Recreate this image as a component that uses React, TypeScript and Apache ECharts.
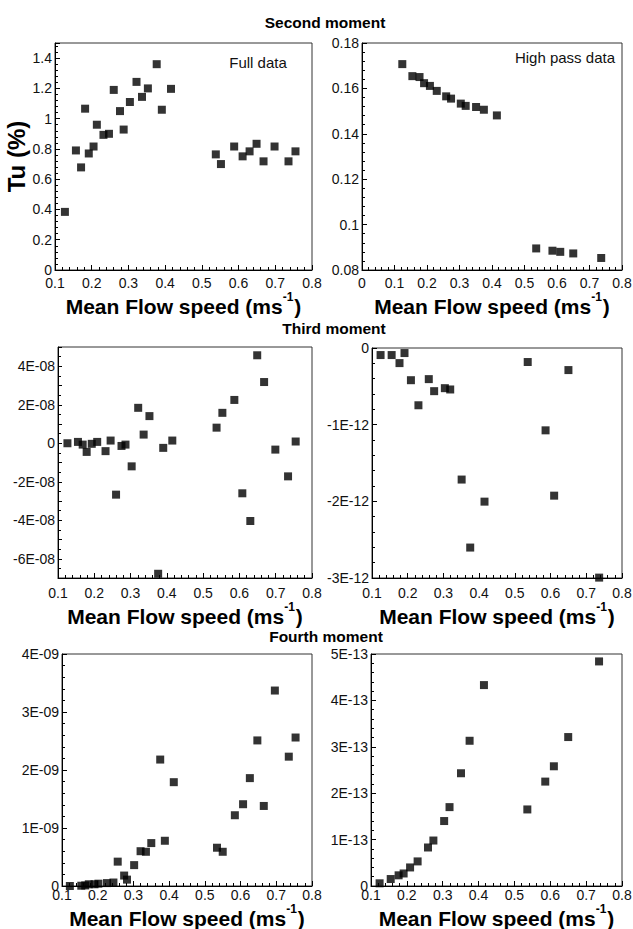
import React, { useEffect, useRef } from "react";
import * as echarts from "echarts";

// ---------- Data ----------
// Full data: flow speed (m/s) per panel
const speedSecond = [0.127, 0.157, 0.171, 0.182, 0.192, 0.205, 0.214, 0.232, 0.247, 0.260, 0.277, 0.287, 0.304, 0.322, 0.337, 0.353, 0.377, 0.391, 0.416, 0.538, 0.552, 0.588, 0.611, 0.630, 0.649, 0.668, 0.698, 0.736, 0.755];
const tuSecond = [0.384, 0.79, 0.678, 1.066, 0.77, 0.816, 0.96, 0.893, 0.90, 1.19, 1.05, 0.928, 1.11, 1.243, 1.144, 1.2, 1.36, 1.059, 1.197, 0.764, 0.70, 0.816, 0.751, 0.784, 0.834, 0.718, 0.816, 0.718, 0.784];

const speedThird = [0.126, 0.155, 0.168, 0.179, 0.193, 0.208, 0.231, 0.245, 0.260, 0.275, 0.286, 0.303, 0.321, 0.336, 0.352, 0.376, 0.390, 0.415, 0.537, 0.553, 0.586, 0.608, 0.630, 0.649, 0.668, 0.699, 0.734, 0.755];
const third = [0.0, 0.07e-8, -0.07e-8, -0.45e-8, -0.03e-8, 0.07e-8, -0.41e-8, 0.14e-8, -2.67e-8, -0.14e-8, -0.07e-8, -1.2e-8, 1.84e-8, 0.45e-8, 1.41e-8, -6.78e-8, -0.24e-8, 0.14e-8, 0.81e-8, 1.58e-8, 2.25e-8, -2.6e-8, -4.04e-8, 4.57e-8, 3.18e-8, -0.33e-8, -1.72e-8, 0.09e-8];

const speedFourth = [0.122, 0.154, 0.165, 0.175, 0.191, 0.202, 0.226, 0.244, 0.256, 0.274, 0.282, 0.302, 0.320, 0.335, 0.350, 0.375, 0.388, 0.413, 0.534, 0.550, 0.584, 0.607, 0.626, 0.647, 0.665, 0.696, 0.735, 0.754];
const fourth = [0, 0.005e-9, 0.01e-9, 0.03e-9, 0.03e-9, 0.04e-9, 0.05e-9, 0.06e-9, 0.42e-9, 0.18e-9, 0.11e-9, 0.36e-9, 0.60e-9, 0.59e-9, 0.74e-9, 2.18e-9, 0.78e-9, 1.79e-9, 0.66e-9, 0.59e-9, 1.22e-9, 1.41e-9, 1.86e-9, 2.51e-9, 1.38e-9, 3.37e-9, 2.23e-9, 2.56e-9];

// High pass data
const speedHigh = [0.124, 0.155, 0.177, 0.191, 0.209, 0.230, 0.259, 0.274, 0.304, 0.319, 0.351, 0.375, 0.415, 0.536, 0.586, 0.610, 0.650, 0.736];
const highSecond = [0.1707, 0.1654, 0.165, 0.1623, 0.1611, 0.1589, 0.1565, 0.1555, 0.1533, 0.1523, 0.1518, 0.1506, 0.1481, 0.0895, 0.0885, 0.0880, 0.0873, 0.0853];
const highThird = [-0.092e-12, -0.092e-12, -0.197e-12, -0.066e-12, -0.42e-12, -0.747e-12, -0.406e-12, -0.563e-12, -0.524e-12, -0.541e-12, -1.716e-12, -2.603e-12, -2.004e-12, -0.183e-12, -1.074e-12, -1.926e-12, -0.288e-12, -2.995e-12];
const highFourth = [0.058e-13, 0.15e-13, 0.23e-13, 0.27e-13, 0.40e-13, 0.53e-13, 0.83e-13, 0.98e-13, 1.40e-13, 1.70e-13, 2.43e-13, 3.13e-13, 4.33e-13, 1.65e-13, 2.25e-13, 2.58e-13, 3.21e-13, 4.84e-13];

const rowTitles = ["Second moment", "Third moment", "Fourth moment"];
const xAxisTitle = "Mean Flow speed (ms{sup|-1})";
const yAxisTitle = "Tu (%)";
const panelNotes = ["Full data", "High pass data"];

const FONT = '"Liberation Sans", Arial, Helvetica, sans-serif';

function zip(xs: number[], ys: number[]) {
  return xs.map((x, i) => [x, ys[i]]);
}

function expFmt(exp: number, evenOnly = false) {
  return (v: number) => {
    const m = Math.round(v / Math.pow(10, exp));
    if (evenOnly && m % 2 !== 0) return "";
    if (m === 0) return "0";
    return `${m}E-${String(-exp).padStart(2, "0")}`;
  };
}
const decFmt = (v: number) => String(Number(v.toFixed(4)));

export default function App() {
  const ref = useRef<HTMLDivElement>(null);

  useEffect(() => {
    if (!ref.current) return;
    const chart = echarts.init(ref.current, undefined, { renderer: "svg" });

    const grids = [
      { left: 55, top: 43, width: 257, height: 227 },
      { left: 362, top: 43, width: 260, height: 227 },
      { left: 58, top: 347, width: 254, height: 231 },
      { left: 372, top: 348, width: 250, height: 230 },
      { left: 62, top: 654, width: 250, height: 232 },
      { left: 371, top: 654, width: 251, height: 232 },
    ].map((g) => ({
      ...g,
      show: true,
      borderColor: "#333",
      borderWidth: 1,
      backgroundColor: "transparent",
      containLabel: false,
      outerBoundsMode: "none",
    }));

    const labelMargins = [6, 6, 8, 8, 2, 2];
    const nameGaps = [14, 14, 16, 16, 10, 10];

    const xRanges = [
      [0.1, 0.8],
      [0, 0.8],
      [0.1, 0.8],
      [0.1, 0.8],
      [0.1, 0.8],
      [0.1, 0.8],
    ];

    const xAxes = xRanges.map((r, i) => ({
      type: "value",
      gridIndex: i,
      min: r[0],
      max: r[1],
      interval: 0.1,
      name: xAxisTitle,
      nameLocation: "middle",
      nameGap: nameGaps[i],
      nameTextStyle: {
        fontFamily: FONT,
        fontSize: 21,
        fontWeight: "bold",
        color: "#000",
        lineHeight: 31,
        rich: {
          sup: {
            fontFamily: FONT,
            fontSize: 12,
            fontWeight: "bold",
            color: "#000",
            lineHeight: 12,
            verticalAlign: "top",
            padding: [0, 1, 0, 0],
          },
        },
      },
      axisLine: { show: true, onZero: false, lineStyle: { color: "#000", width: 1 } },
      axisTick: { show: true, inside: true, length: 5, lineStyle: { color: "#000" } },
      minorTick: { show: true, splitNumber: 5, length: 3, lineStyle: { color: "#000" } },
      splitLine: { show: false },
      minorSplitLine: { show: false },
      axisLabel: {
        fontFamily: FONT,
        fontSize: 14,
        color: "#111",
        margin: labelMargins[i],
        formatter: decFmt,
        showMinLabel: true,
        showMaxLabel: true,
      },
    }));

    const baseY = (i: number) => ({
      type: "value",
      gridIndex: i,
      axisLine: { show: true, onZero: false, lineStyle: { color: "#000", width: 1 } },
      axisTick: { show: true, inside: true, length: 5, lineStyle: { color: "#000" } },
      minorTick: { show: true, splitNumber: 5, length: 3, lineStyle: { color: "#000" } },
      splitLine: { show: false },
      minorSplitLine: { show: false },
      axisLabel: {
        fontFamily: FONT,
        fontSize: 14,
        color: "#111",
        margin: 3,
      },
    });

    const yAxes: any[] = [
      (() => {
        const a: any = baseY(0);
        a.min = 0;
        a.max = 1.5;
        a.interval = 0.2;
        a.axisLabel.formatter = decFmt;
        a.axisLabel.showMaxLabel = false;
        a.name = yAxisTitle;
        a.nameLocation = "middle";
        a.nameGap = 17;
        a.nameTextStyle = { fontFamily: FONT, fontSize: 24, fontWeight: "bold", color: "#000" };
        return a;
      })(),
      (() => {
        const a: any = baseY(1);
        a.min = 0.08;
        a.max = 0.18;
        a.interval = 0.02;
        a.axisLabel.formatter = decFmt;
        return a;
      })(),
      (() => {
        const a: any = baseY(2);
        a.min = -7e-8;
        a.max = 5e-8;
        a.interval = 1e-8;
        a.minorTick.splitNumber = 2;
        a.axisTick.length = 4;
        a.axisLabel.formatter = expFmt(-8, true);
        return a;
      })(),
      (() => {
        const a: any = baseY(3);
        a.min = -3e-12;
        a.max = 0;
        a.interval = 1e-12;
        a.axisLabel.formatter = expFmt(-12);
        return a;
      })(),
      (() => {
        const a: any = baseY(4);
        a.min = 0;
        a.max = 4e-9;
        a.interval = 1e-9;
        a.axisLabel.formatter = expFmt(-9);
        return a;
      })(),
      (() => {
        const a: any = baseY(5);
        a.min = 0;
        a.max = 5e-13;
        a.interval = 1e-13;
        a.axisLabel.formatter = expFmt(-13);
        return a;
      })(),
    ];

    const seriesData = [
      zip(speedSecond, tuSecond),
      zip(speedHigh, highSecond),
      zip(speedThird, third),
      zip(speedHigh, highThird),
      zip(speedFourth, fourth),
      zip(speedHigh, highFourth),
    ];

    const series = seriesData.map((d, i) => ({
      type: "scatter",
      xAxisIndex: i,
      yAxisIndex: i,
      data: d,
      symbol: "rect",
      symbolSize: 8,
      clip: false,
      itemStyle: { color: "#000" },
      emphasis: { disabled: true },
    }));

    const titleStyle = { fontFamily: FONT, fontSize: 15.5, fontWeight: "bold", fill: "#000" };
    const graphic = [
      { type: "text", x: 325, y: 22, style: { ...titleStyle, text: rowTitles[0], textAlign: "center", textVerticalAlign: "middle" } },
      { type: "text", x: 334, y: 328, style: { ...titleStyle, text: rowTitles[1], textAlign: "center", textVerticalAlign: "middle" } },
      { type: "text", x: 326, y: 636, style: { ...titleStyle, text: rowTitles[2], textAlign: "center", textVerticalAlign: "middle" } },
      { type: "text", x: 258, y: 62, style: { fontFamily: FONT, fontSize: 15, fill: "#111", text: panelNotes[0], textAlign: "center", textVerticalAlign: "middle" } },
      { type: "text", x: 615, y: 57, style: { fontFamily: FONT, fontSize: 15, fill: "#111", text: panelNotes[1], textAlign: "right", textVerticalAlign: "middle" } },
    ];

    chart.setOption({
      animation: false,
      backgroundColor: "#fff",
      textStyle: { fontFamily: FONT },
      grid: grids,
      xAxis: xAxes,
      yAxis: yAxes,
      series,
      graphic,
    });

    return () => chart.dispose();
  }, []);

  return (
    <div
      ref={ref}
      style={{ position: "fixed", left: 0, top: 0, width: 633, height: 929, background: "#fff" }}
    />
  );
}
